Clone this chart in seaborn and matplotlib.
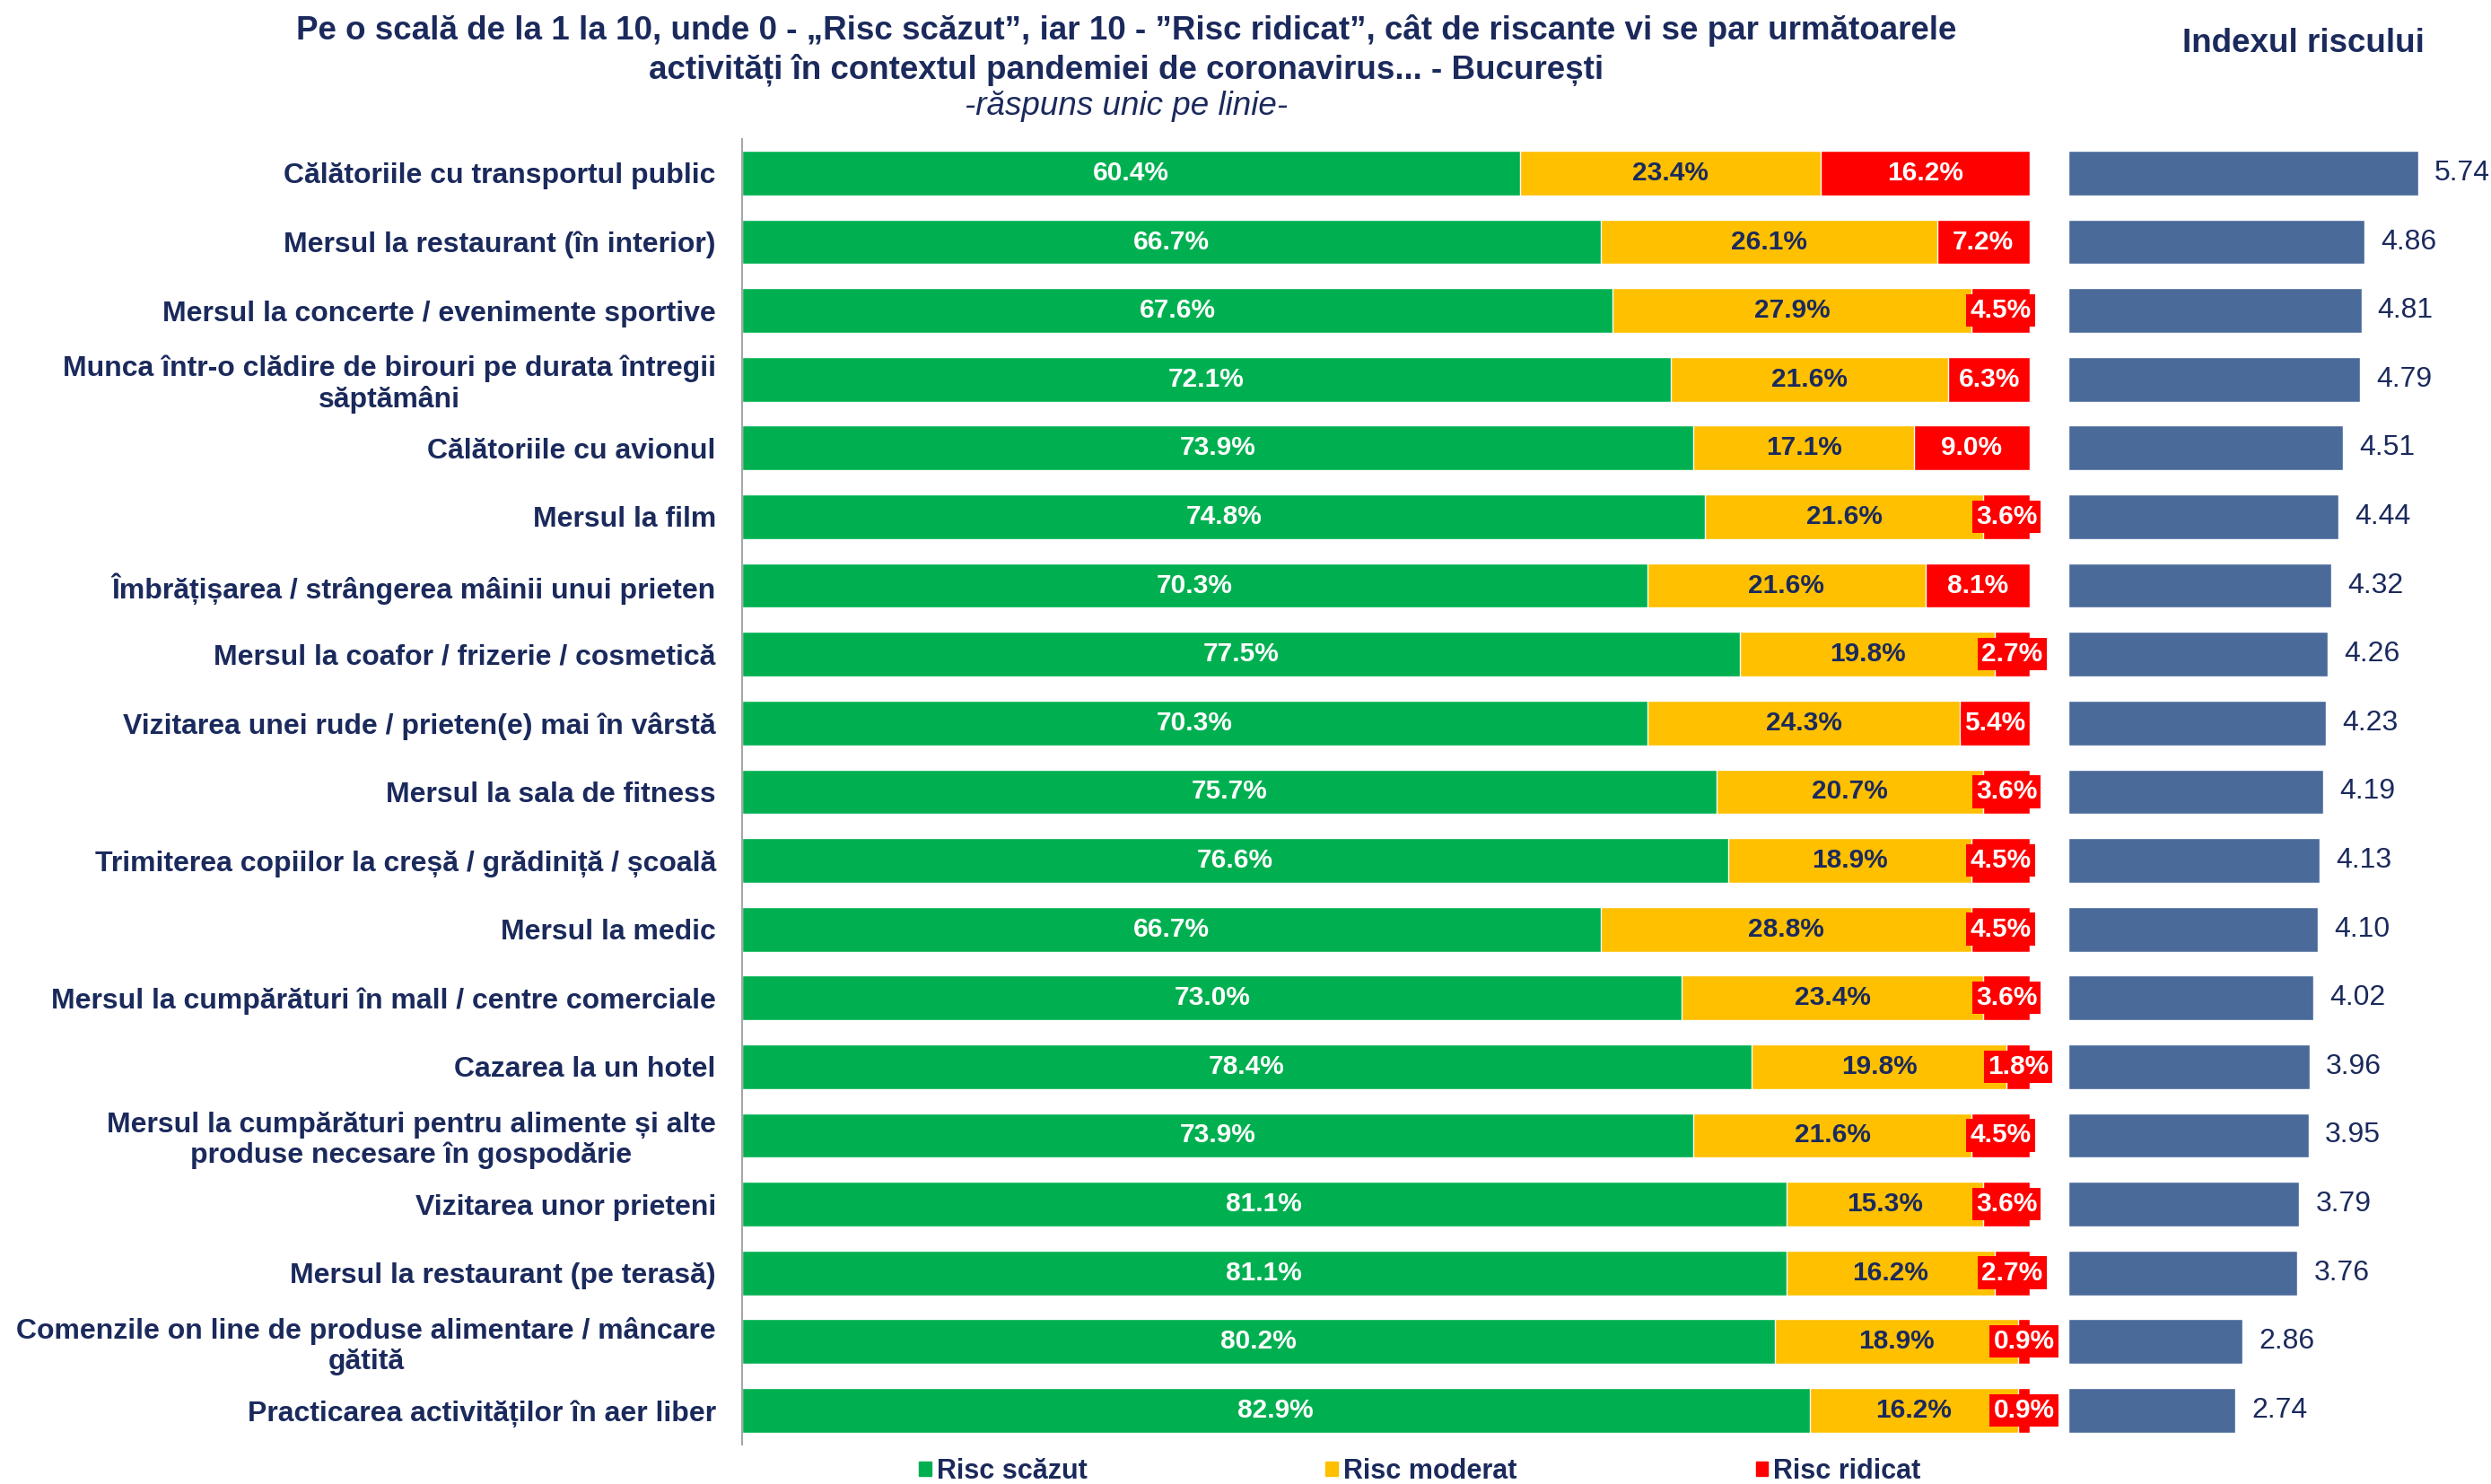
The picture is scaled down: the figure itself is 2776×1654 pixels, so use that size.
import numpy as np
import pandas as pd
import seaborn as sns
import matplotlib.pyplot as plt
from matplotlib.patches import Patch

# data
categories = [
    "Călătoriile cu transportul public",
    "Mersul la restaurant (în interior)",
    "Mersul la concerte / evenimente sportive",
    "Munca într-o clădire de birouri pe durata întregii\nsăptămâni",
    "Călătoriile cu avionul",
    "Mersul la film",
    "Îmbrățișarea / strângerea mâinii unui prieten",
    "Mersul la coafor / frizerie / cosmetică",
    "Vizitarea unei rude / prieten(e) mai în vârstă",
    "Mersul la sala de fitness",
    "Trimiterea copiilor la creșă / grădiniță / școală",
    "Mersul la medic",
    "Mersul la cumpărături în mall / centre comerciale",
    "Cazarea la un hotel",
    "Mersul la cumpărături pentru alimente și alte\nproduse necesare în gospodărie",
    "Vizitarea unor prieteni",
    "Mersul la restaurant (pe terasă)",
    "Comenzile on line de produse alimentare / mâncare\ngătită",
    "Practicarea activităților în aer liber",
]
risc_scazut = [60.4, 66.7, 67.6, 72.1, 73.9, 74.8, 70.3, 77.5, 70.3, 75.7,
               76.6, 66.7, 73.0, 78.4, 73.9, 81.1, 81.1, 80.2, 82.9]
risc_moderat = [23.4, 26.1, 27.9, 21.6, 17.1, 21.6, 21.6, 19.8, 24.3, 20.7,
                18.9, 28.8, 23.4, 19.8, 21.6, 15.3, 16.2, 18.9, 16.2]
risc_ridicat = [16.2, 7.2, 4.5, 6.3, 9.0, 3.6, 8.1, 2.7, 5.4, 3.6,
                4.5, 4.5, 3.6, 1.8, 4.5, 3.6, 2.7, 0.9, 0.9]
indexul = [5.74, 4.86, 4.81, 4.79, 4.51, 4.44, 4.32, 4.26, 4.23, 4.19,
           4.13, 4.10, 4.02, 3.96, 3.95, 3.79, 3.76, 2.86, 2.74]

GREEN = "#00B050"
YELLOW = "#FFC000"
RED = "#FF0000"
BLUE = "#4A6A9A"
NAVY = "#1B2A5C"

sns.set_theme(style="white")
plt.rcParams["font.family"] = ["Liberation Sans", "DejaVu Sans"]

df = pd.DataFrame({"activitate": categories,
                   "scazut": risc_scazut,
                   "moderat": risc_moderat,
                   "ridicat": risc_ridicat,
                   "index": indexul})
df["scazut_moderat"] = df["scazut"] + df["moderat"]
df["total"] = df["scazut_moderat"] + df["ridicat"]

fig = plt.figure(figsize=(27.76, 16.54), dpi=100)
ax = fig.add_axes([0.2979, 0.0265, 0.5169, 0.880])

# stacked bars: draw cumulative totals back to front
for col, color in [("total", RED), ("scazut_moderat", YELLOW), ("scazut", GREEN)]:
    sns.barplot(data=df, x=col, y="activitate", color=color, saturation=1,
                width=0.65, ax=ax, orient="h")

for i, row in df.iterrows():
    ax.text(row["scazut"] / 2, i, f"{row['scazut']:.1f}%", ha="center", va="center",
            color="white", fontsize=21.5, fontweight="bold")
    ax.text(row["scazut"] + row["moderat"] / 2, i, f"{row['moderat']:.1f}%",
            ha="center", va="center", color=NAVY, fontsize=21.5, fontweight="bold")
    ax.text(row["scazut_moderat"] + row["ridicat"] / 2, i, f"{row['ridicat']:.1f}%",
            ha="center", va="center", color="white", fontsize=21.5, fontweight="bold",
            bbox=dict(facecolor=RED, edgecolor="none", pad=3), clip_on=False)

ax.set_xlim(0, 100)
ax.set_ylim(18.5, -0.5)
ax.set_xlabel("")
ax.set_ylabel("")
ax.set_xticks([])
ax.tick_params(axis="y", length=0, pad=21)
ax.set_yticks(np.arange(-0.5, len(categories), 1), minor=True)
ax.tick_params(axis="y", which="minor", length=6, color="#A6A6A6", width=1.5)
for t in ax.get_yticklabels():
    t.set_fontsize(23)
    t.set_fontweight("bold")
    t.set_color(NAVY)
    t.set_multialignment("center")
    t.set_linespacing(1.15)
for side in ["top", "right", "bottom"]:
    ax.spines[side].set_visible(False)
ax.spines["left"].set_color("#A6A6A6")
ax.spines["left"].set_linewidth(1.5)

# risk index panel
ax2 = fig.add_axes([0.8303, 0.0265, 0.159, 0.880])
sns.barplot(data=df, x="index", y="activitate", color=BLUE, saturation=1,
            width=0.65, ax=ax2, orient="h")
ax2.bar_label(ax2.containers[0], fmt="%.2f", padding=13, fontsize=23, color=NAVY)
ax2.set_xlim(0, 6.5)
ax2.set_ylim(18.5, -0.5)
ax2.set_xlabel("")
ax2.set_ylabel("")
ax2.set_xticks([])
ax2.set_yticks([])
for side in ["top", "right", "bottom", "left"]:
    ax2.spines[side].set_visible(False)

fig.text(0.4521, 1 - 34 / 1654,
         "Pe o scală de la 1 la 10, unde 0 - „Risc scăzut”, iar 10 - ”Risc ridicat”, "
         "cât de riscante vi se par următoarele",
         ha="center", va="center", fontsize=26.5, fontweight="bold", color=NAVY)
fig.text(0.4521, 1 - 78 / 1654,
         "activități în contextul pandemiei de coronavirus... - București",
         ha="center", va="center", fontsize=26.5, fontweight="bold", color=NAVY)
fig.text(0.4521, 1 - 119 / 1654, "-răspuns unic pe linie-",
         ha="center", va="center", fontsize=26.5, fontstyle="italic", color=NAVY)
fig.text(0.9247, 1 - 48 / 1654, "Indexul riscului",
         ha="center", va="center", fontsize=26.5, fontweight="bold", color=NAVY)

handles = [Patch(color=GREEN, label="Risc scăzut"),
           Patch(color=YELLOW, label="Risc moderat"),
           Patch(color=RED, label="Risc ridicat")]
leg = fig.legend(handles=handles, loc="center", bbox_to_anchor=(0.570, 0.0085),
                 ncol=3, frameon=False, fontsize=22, handlelength=0.45,
                 handleheight=0.45, handletextpad=0.2, columnspacing=8.7,
                 borderpad=0, borderaxespad=0)
for t in leg.get_texts():
    t.set_color(NAVY)
    t.set_fontweight("bold")

fig.savefig("out.png", dpi=100)
